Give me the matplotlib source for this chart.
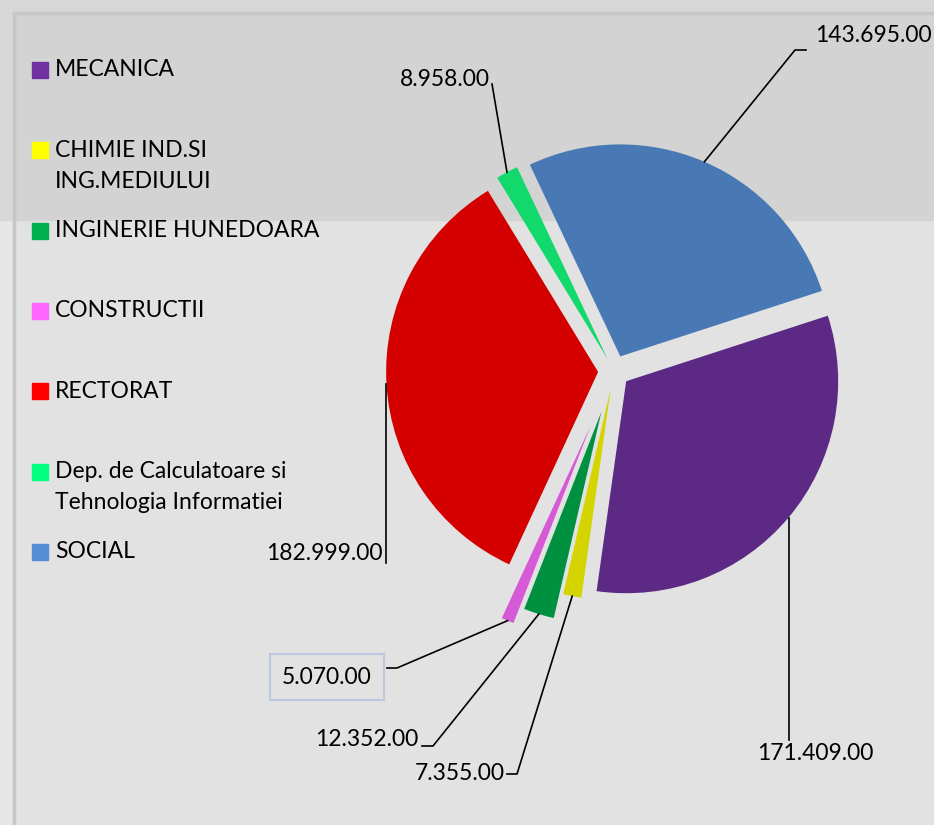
import matplotlib.pyplot as plt
from matplotlib.patches import Rectangle
import numpy as np

# data
names = ['MECANICA', 'CHIMIE IND.SI\nING.MEDIULUI', 'INGINERIE HUNEDOARA', 'CONSTRUCTII',
         'RECTORAT', 'Dep. de Calculatoare si\nTehnologia Informatiei', 'SOCIAL']
values = [171409, 7355, 12352, 5070, 182999, 8958, 143695]

pie_colors = ['#5C2A84', '#D4D400', '#009140', '#D65AD6', '#D40000', '#12D96C', '#4979B4']
legend_colors = ['#7030A0', '#FFFF00', '#00B050', '#FF66FF', '#FF0000', '#00FF80', '#558ED5']
explode = [0.075, 0.08, 0.2, 0.28, 0.075, 0.065, 0.075]

W, H = 934, 825
plt.rcParams['font.family'] = ['Lato', 'DejaVu Sans']

fig = plt.figure(figsize=(W / 100, H / 100), dpi=100)
fig.patch.set_facecolor('#e2e2e2')
ax = fig.add_axes([0, 0, 1, 1])
ax.set_xlim(0, W)
ax.set_ylim(0, H)
ax.axis('off')


def P(x, y):
    # pixel (y down) -> data
    return x, H - y


# background band + frame shadow
ax.add_patch(Rectangle(P(0, 220), W, 220, color='#d3d3d3', zorder=0))
ax.add_patch(Rectangle(P(0, 13), W, 13, color='#d7d7d7', zorder=0))
ax.add_patch(Rectangle(P(0, H), 13, H - 13, color='#e6e6e6', zorder=0))
ax.add_patch(Rectangle(P(0, 220), 13, 207, color='#d7d7d7', zorder=0))
ax.plot(*zip(P(14, 13), P(14, H)), color='#c6c6c6', lw=2.5, zorder=1)
ax.plot(*zip(P(14, 13), P(W, 13)), color='#c6c6c6', lw=2.5, zorder=1)

cx, cy = P(614, 371)
R = 212
wedges, _ = ax.pie(values, colors=pie_colors, explode=[e * R for e in explode],
                   startangle=18, counterclock=False, radius=R, center=(cx, cy),
                   wedgeprops=dict(linewidth=0))
ax.set_xlim(0, W)
ax.set_ylim(0, H)
ax.set_aspect('equal')

# labels: text position (pixels), alignment, leader points after the anchor
labels = [
    dict(xy=(757, 753), ha='left', pts=[(793, 740)]),
    dict(xy=(505, 773), ha='right', pts=[(517, 774), (507, 774)]),
    dict(xy=(418, 740), ha='right', pts=[(433, 746), (422, 746)]),
    dict(xy=(327, 677), ha='center', pts=[(397, 668), (387, 668)]),
    dict(xy=(383, 553), ha='right', pts=[(385, 563)]),
    dict(xy=(490, 80), ha='right', pts=[(492, 84)]),
    dict(xy=(815, 36), ha='left', pts=[(795, 50), (806, 50)]),
]

for w, v, e, lab in zip(wedges, values, explode, labels):
    mid = np.deg2rad((w.theta1 + w.theta2) / 2)
    r = R * (1 + e)
    ax_, ay_ = cx + r * np.cos(mid), cy + r * np.sin(mid)
    xs = [ax_] + [P(*p)[0] for p in lab['pts']]
    ys = [ay_] + [P(*p)[1] for p in lab['pts']]
    if len(lab['pts']) == 1 and v > 100000:
        xs[1] = ax_  # vertical leader
    ax.plot(xs, ys, color='black', lw=1.2, zorder=3)
    txt = f"{v:,.2f}".replace(',', '.')
    bbox = None
    if lab['ha'] == 'center':
        bbox = dict(boxstyle='square,pad=0.55', fc='#e2e2e2', ec='#b9c9df', lw=1.5)
    ax.text(*P(*lab['xy']), txt, ha=lab['ha'], va='center', fontsize=16.5,
            color='black', bbox=bbox, zorder=4)

# legend
for i, (n, c) in enumerate(zip(names, legend_colors)):
    y0 = 70 + 80.3 * i
    ax.add_patch(Rectangle(P(32, y0 + 8), 16, 16, color=c, zorder=3))
    for j, line in enumerate(n.split('\n')):
        ax.text(*P(55, y0 + 31 * j), line, ha='left', va='center', fontsize=16.5,
                color='black', zorder=4)

fig.savefig('out.png', dpi=100, facecolor=fig.get_facecolor())
